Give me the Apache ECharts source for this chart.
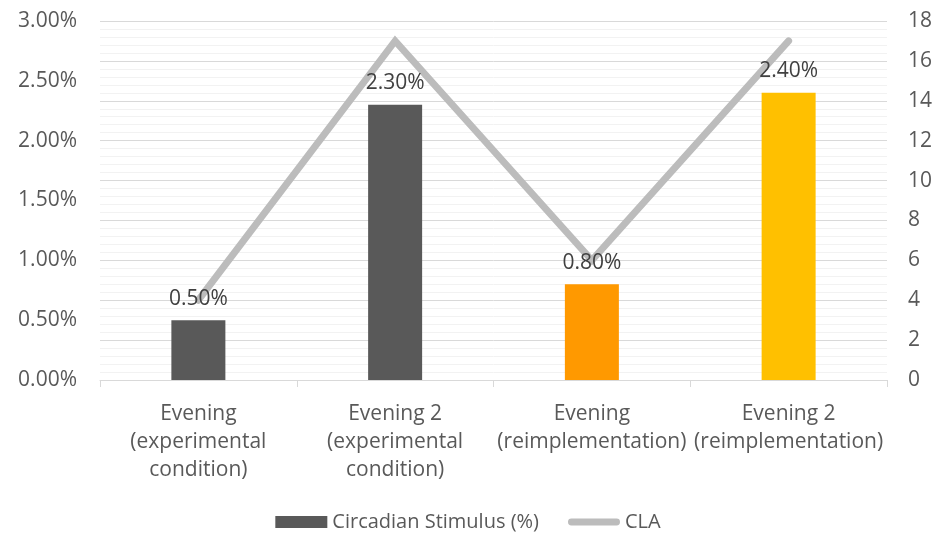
<!DOCTYPE html>
<html>
<head>
<meta charset="utf-8">
<title>Circadian Stimulus and CLA</title>
<script src="https://cdn.jsdelivr.net/npm/echarts@6/dist/echarts.min.js"></script>
<style>
  html, body { margin: 0; padding: 0; background: #ffffff; }
  #chart { width: 936px; height: 535px; }
</style>
</head>
<body>
<div id="chart"></div>
<script>
// Conditions on the x axis
const categories = [
  'Evening\n(experimental\ncondition)',
  'Evening 2\n(experimental\ncondition)',
  'Evening\n(reimplementation)',
  'Evening 2\n(reimplementation)'
];
// Circadian stimulus, in percent
const stimulusPct = [0.5, 2.3, 0.8, 2.4];
// Circadian light (CLA)
const claValues = [4, 17, 6, 17];
// Bar fills per condition
const barColors = ['#595959', '#595959', '#FF9900', '#FFC000'];

const FONT = 'Open Sans';
const TEXT = '#595959';
const LINE_GREY = '#BCBCBC';

// Thick rounded stroke used as the CLA legend key (padded box keeps it thin)
const lineKey = 'path://M0,0 M0,12 M3,2.5 L49,2.5 A3.5,3.5 0 0 1 49,9.5 L3,9.5 A3.5,3.5 0 0 1 3,2.5 Z M52,0';

const chart = echarts.init(document.getElementById('chart'), null, { renderer: 'canvas' });

chart.setOption({
  animation: false,
  textStyle: { fontFamily: FONT },
  grid: { left: 100, right: 49, top: 21, bottom: 155, containLabel: false },
  legend: {
    bottom: -2,
    left: 'center',
    itemGap: 29,
    itemWidth: 52,
    itemHeight: 12,
    textStyle: { fontFamily: FONT, fontSize: 20, color: TEXT },
    data: [
      { name: 'Circadian Stimulus (%)', icon: 'rect' },
      { name: 'CLA', icon: lineKey, itemStyle: { color: LINE_GREY } }
    ]
  },
  xAxis: {
    type: 'category',
    data: categories,
    axisLine: { lineStyle: { color: '#d9d9d9', width: 1 } },
    axisTick: { show: true, alignWithLabel: false, length: 7, lineStyle: { color: '#d9d9d9' } },
    axisLabel: {
      interval: 0,
      margin: 20,
      color: TEXT,
      fontFamily: FONT,
      fontSize: 21,
      lineHeight: 28
    }
  },
  yAxis: [
    {
      type: 'value',
      min: 0,
      max: 3,
      interval: 0.5,
      position: 'left',
      splitLine: { show: false },
      axisLine: { show: false },
      axisTick: { show: false },
      axisLabel: {
        margin: 23,
        color: TEXT,
        fontFamily: FONT,
        fontSize: 21,
        formatter: v => v.toFixed(2) + '%'
      }
    },
    {
      type: 'value',
      min: 0,
      max: 18,
      interval: 2,
      position: 'right',
      splitLine: { show: true, lineStyle: { color: '#d9d9d9', width: 1 } },
      minorTick: { show: false, splitNumber: 5 },
      minorSplitLine: { show: true, lineStyle: { color: '#f2f2f2', width: 1 } },
      axisLine: { show: false },
      axisTick: { show: false },
      axisLabel: {
        margin: 21,
        color: TEXT,
        fontFamily: FONT,
        fontSize: 21
      }
    }
  ],
  series: [
    {
      name: 'Circadian Stimulus (%)',
      type: 'bar',
      yAxisIndex: 0,
      barWidth: 54,
      z: 3,
      itemStyle: { color: '#595959' },
      data: stimulusPct.map((v, i) => ({ value: v, itemStyle: { color: barColors[i] } })),
      label: {
        show: true,
        position: 'top',
        distance: 11,
        color: '#404040',
        fontFamily: FONT,
        fontSize: 21,
        formatter: p => p.value.toFixed(2) + '%'
      }
    },
    {
      name: 'CLA',
      type: 'line',
      yAxisIndex: 1,
      z: 1,
      data: claValues,
      symbol: 'none',
      color: LINE_GREY,
      lineStyle: { color: LINE_GREY, width: 7, cap: 'round', join: 'miter' }
    }
  ]
});
</script>
</body>
</html>
